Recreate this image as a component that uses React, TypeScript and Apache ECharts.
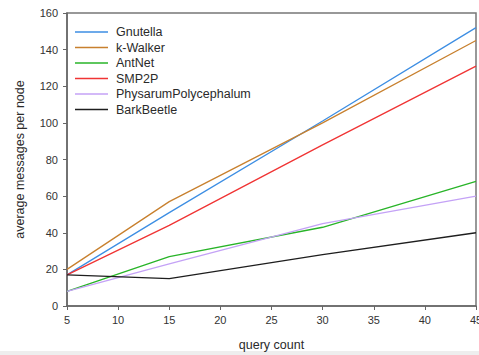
import React, { useEffect, useRef } from "react";
import * as echarts from "echarts";

const queryCounts = [5, 15, 30, 45];
const seriesNames = ["Gnutella", "k-Walker", "AntNet", "SMP2P", "PhysarumPolycephalum", "BarkBeetle"];
const gnutella = [17, 51, 101, 152];
const kWalker = [20, 57, 100, 145];
const antNet = [8, 27, 43, 68];
const smp2p = [17, 44, 88, 131];
const physarum = [8, 23, 45, 60];
const barkBeetle = [17, 15, 28, 40];
const seriesColors = ["#3d8ee3", "#c8802e", "#28b428", "#f03434", "#c4a2f6", "#1e1e1e"];

export default function App() {
  const ref = useRef<HTMLDivElement>(null);
  useEffect(() => {
    document.body.style.margin = "0";
    const chart = echarts.init(ref.current!, undefined, { renderer: "svg" });
    const allData = [gnutella, kWalker, antNet, smp2p, physarum, barkBeetle];
    const font = "'Liberation Sans', Arial, sans-serif";
    chart.setOption({
      animation: false,
      backgroundColor: "#ffffff",
      grid: {
        left: 67,
        right: 3,
        top: 13,
        bottom: 49,
        outerBoundsMode: "none",
        containLabel: false,
        show: true,
        borderColor: "#777",
        borderWidth: 1.5,
        backgroundColor: "transparent",
      },
      legend: {
        orient: "vertical",
        left: 75,
        top: 25,
        padding: 0,
        itemWidth: 33,
        itemHeight: 1.5,
        itemGap: 1.5,
        icon: "rect",
        textStyle: { fontFamily: font, fontSize: 12.5, color: "#2a2a2a", lineHeight: 14, padding: [0, 0, 0, 3] },
        data: seriesNames,
      },
      xAxis: {
        type: "value",
        min: 5,
        max: 45,
        interval: 5,
        name: "query count",
        nameLocation: "middle",
        nameGap: 32,
        nameTextStyle: { fontFamily: font, fontSize: 12.5, color: "#2a2a2a" },
        axisLine: { show: true, lineStyle: { color: "#666", width: 1.5 } },
        axisTick: { show: true, length: 4, lineStyle: { color: "#666" } },
        axisLabel: { fontFamily: font, fontSize: 11, color: "#333", margin: 8 },
        splitLine: { show: false },
      },
      yAxis: {
        type: "value",
        min: 0,
        max: 160,
        interval: 20,
        name: "average messages per node",
        nameLocation: "middle",
        nameGap: 41,
        nameTextStyle: { fontFamily: font, fontSize: 12.5, color: "#2a2a2a" },
        axisLine: { show: true, lineStyle: { color: "#666", width: 1.5 } },
        axisTick: { show: true, length: 4, lineStyle: { color: "#666" } },
        axisLabel: { fontFamily: font, fontSize: 11, color: "#333", margin: 9 },
        splitLine: { show: false },
      },
      graphic: [
        { type: "rect", left: 0, top: 351, shape: { width: 479, height: 4 }, style: { fill: "#eeeeee" }, silent: true },
      ],
      series: seriesNames.map((name, i) => ({
        name,
        type: "line",
        data: queryCounts.map((x, j) => [x, allData[i][j]]),
        showSymbol: false,
        symbol: "none",
        color: seriesColors[i],
        lineStyle: { width: 1.3, color: seriesColors[i] },
      })),
    });
    return () => chart.dispose();
  }, []);
  return <div ref={ref} style={{ width: 479, height: 355 }} />;
}
